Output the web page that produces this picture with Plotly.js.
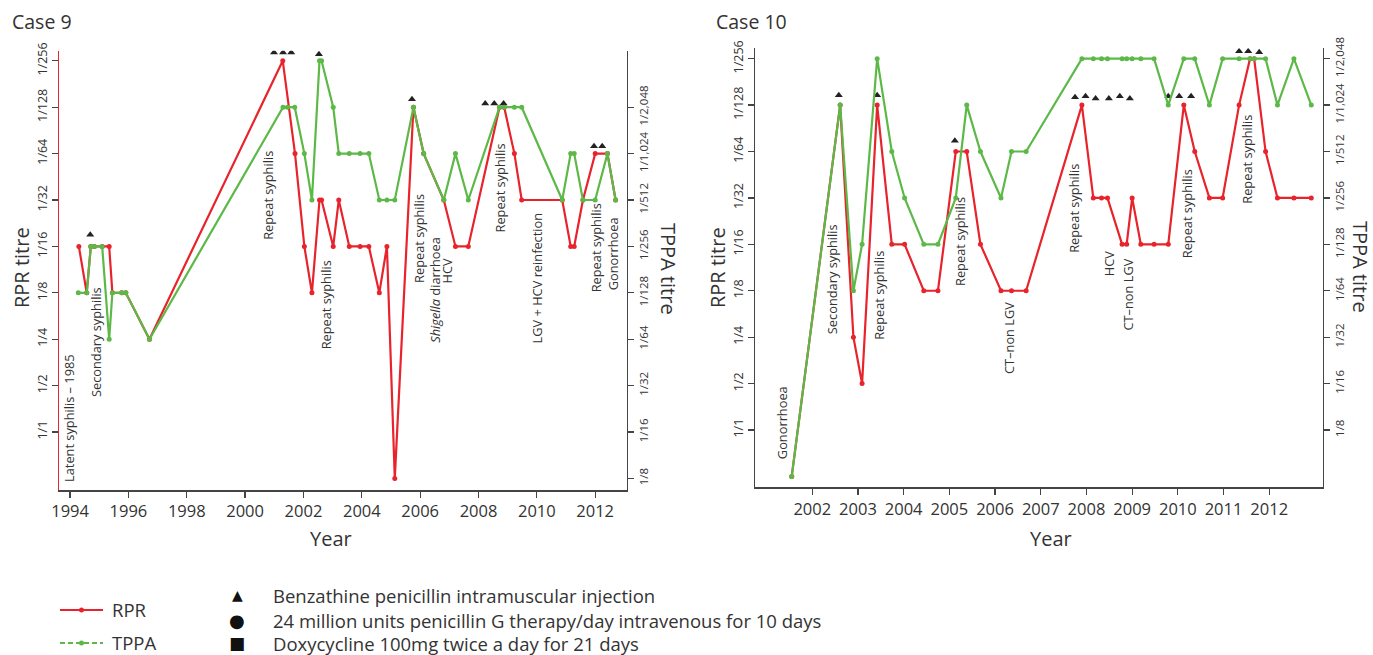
<!DOCTYPE html>
<html>
<head>
<meta charset="utf-8">
<script src="https://cdn.plot.ly/plotly-3.0.1.min.js"></script>
<style>html,body{margin:0;padding:0;background:#fff;}#chart{width:1373px;height:655px;}</style>
</head>
<body>
<div id="chart"></div>
<script>
// ---------- DATA (levels: 0 = 1/1, 1 = 1/2, ... 8 = 1/256; -1 = below 1/1) ----------
const rprTicks = ["1/1","1/2","1/4","1/8","1/16","1/32","1/64","1/128","1/256"];
const rprTickVals = [0,1,2,3,4,5,6,7,8];
const tppaTicks = ["1/8","1/16","1/32","1/64","1/128","1/256","1/512","1/1,024","1/2,048"];
const tppaTickVals9 = [-1,0,1,2,3,4,5,6,7];
const tppaTickVals10 = [0,1,2,3,4,5,6,7,8];
const yearTicks9 = [1994,1996,1998,2000,2002,2004,2006,2008,2010,2012];
const yearTicks10 = [2002,2003,2004,2005,2006,2007,2008,2009,2010,2011,2012];

// Case 9
const case9RprYears = [1994.30,1994.57,1994.71,1994.83,1995.10,1995.34,1995.45,1995.77,1995.91,1996.72,
  2001.29,2001.71,2002.03,2002.29,2002.55,2002.62,2003.02,2003.21,2003.57,2003.94,
  2004.24,2004.60,2004.86,2005.13,2005.77,2006.12,2006.81,2007.21,2007.65,2008.72,
  2008.88,2009.23,2009.48,2010.87,2011.16,2011.28,2011.58,2012.00,2012.42,2012.70];
const case9Rpr = [4,3,4,4,4,4,3,3,3,2, 8,6,4,3,5,5,4,5,4,4, 4,3,4,-1,7,6,5,4,4,7, 7,6,5,5,4,4,5,6,6,5];
const case9TppaYears = [1994.28,1994.57,1994.71,1994.83,1995.10,1995.34,1995.45,1995.77,1995.91,1996.72,
  2001.30,2001.45,2001.70,2002.03,2002.29,2002.55,2002.62,2003.02,2003.21,2003.57,
  2003.94,2004.24,2004.60,2004.86,2005.13,2005.77,2006.12,2006.81,2007.21,2007.65,
  2008.72,2008.88,2009.23,2009.48,2010.87,2011.16,2011.28,2011.58,2012.00,2012.42,2012.70];
const case9Tppa = [3,3,4,4,4,2,3,3,3,2, 7,7,7,6,5,8,8,7,6,6, 6,6,5,5,5,7,6,5,6,5, 7,7,7,7,5,6,6,5,5,6,5];
const case9InjYears = [1994.69,2000.99,2001.30,2001.58,2002.53,2005.72,2008.23,2008.54,2008.86,2011.96,2012.24];
const case9InjLevels = [4.25,8.18,8.18,8.18,8.14,7.17,7.08,7.08,7.08,6.16,6.16];
const case9Events = ["Latent syphilis \u2013 1985","Secondary syphilis","Repeat syphilis","Repeat syphilis",
  "Repeat syphilis","<i>Shigella</i> diarrhoea","HCV","Repeat syphilis","LGV + HCV reinfection","Repeat syphilis","Gonorrhoea"];
const case9EventYears = [1993.94,1994.89,2000.80,2002.77,2005.94,2006.48,2006.92,2008.74,2010.02,2012.03,2012.61];
const case9EventLevels = [0.31,1.94,5.10,2.75,4.17,3.07,3.46,5.25,3.32,3.96,3.85];

// Case 10
const case10Years = [2001.55,2002.61,2002.90,2003.09,2003.42,2003.74,2004.02,2004.44,2004.75,2005.14,
  2005.38,2005.68,2006.13,2006.36,2006.68,2007.90,2008.15,2008.33,2008.46,2008.78,
  2008.88,2009.00,2009.19,2009.48,2009.79,2010.13,2010.37,2010.69,2010.98,2011.34,
  2011.58,2011.67,2011.92,2012.18,2012.54,2012.92];
const case10Rpr = [-1,7,2,1,7,4,4,3,3,6, 6,4,3,3,3,7,5,5,5,4, 4,5,4,4,4,7,6,5,5,7, 8,8,6,5,5,5];
const case10Tppa = [-1,7,3,4,8,6,5,4,4,5, 7,6,5,6,6,8,8,8,8,8, 8,8,8,8,7,8,8,7,8,8, 8,8,8,7,8,7];
const case10InjYears = [2002.58,2003.42,2005.12,2007.75,2007.98,2008.20,2008.49,2008.73,2008.95,2009.79,2010.03,2010.29,2011.34,2011.54,2011.78];
const case10InjLevels = [7.21,7.21,6.23,7.17,7.19,7.14,7.14,7.19,7.14,7.19,7.19,7.19,8.16,8.16,8.14];
const case10Events = ["Gonorrhoea","Secondary syphilis","Repeat syphilis","Repeat syphilis","CT\u2013non LGV",
  "Repeat syphilis","HCV","CT\u2013non LGV","Repeat syphilis","Repeat syphilis"];
const case10EventYears = [2001.34,2002.42,2003.47,2005.22,2006.29,2007.71,2008.50,2008.91,2010.19,2011.52];
const case10EventLevels = [0.15,3.26,2.90,4.06,1.99,4.77,3.58,2.92,4.66,5.83];

const legendTreatments = ["Benzathine penicillin intramuscular injection",
  "24 million units penicillin G therapy/day intravenous for 10 days",
  "Doxycycline 100mg twice a day for 21 days"];
const legendSymbols = ["\u25B2","\u25CF","\u25A0"];

// ---------- STYLE ----------
const RED = "#e8232b", GREEN = "#5cb947", AX = "#444444", TXT = "#333333";
const FONT = "Open Sans, sans-serif";
const W = 1373, H = 655;
const px = v => v / W, py = v => 1 - v / H;

function line(x, y, color, xa, ya) {
  return {type:"scatter", mode:"lines+markers", x:x, y:y, xaxis:xa, yaxis:ya,
    line:{color:color, width:2.2}, marker:{color:color, size:5}, showlegend:false, hoverinfo:"skip"};
}
function tri(x, y, xa, ya) {
  return {type:"scatter", mode:"markers", x:x, y:y, xaxis:xa, yaxis:ya,
    marker:{symbol:"triangle-up", size:7, color:"#222"}, showlegend:false, hoverinfo:"skip"};
}

const traces = [
  line(case9RprYears, case9Rpr, RED, "x", "y"),
  line(case9TppaYears, case9Tppa, GREEN, "x", "y2"),
  tri(case9InjYears, case9InjLevels, "x", "y"),
  line(case10Years, case10Rpr, RED, "x2", "y3"),
  line(case10Years, case10Tppa, GREEN, "x2", "y4"),
  tri(case10InjYears, case10InjLevels, "x2", "y3")
];

const ann = [];
function eventLabels(texts, xs, ys, xref, yref) {
  texts.forEach((t, i) => ann.push({text:t, x:xs[i], y:ys[i], xref:xref, yref:yref, textangle:-90,
    showarrow:false, xanchor:"center", yanchor:"middle", font:{family:FONT, size:12.8, color:TXT}}));
}
eventLabels(case9Events, case9EventYears, case9EventLevels, "x", "y");
eventLabels(case10Events, case10EventYears, case10EventLevels, "x2", "y3");

function ptext(t, x, y, size, angle, xanchor) {
  ann.push({text:t, x:px(x), y:py(y), xref:"paper", yref:"paper", showarrow:false, textangle:angle||0,
    xanchor:xanchor||"center", yanchor:"middle", font:{family:FONT, size:size, color:TXT}});
}
ptext("Case 9", 10, 22, 19.5, 0, "left");
ptext("Case 10", 714, 22, 19.5, 0, "left");
ptext("RPR titre", 21, 268, 20, -90);
ptext("RPR titre", 717, 268, 20, -90);
ptext("TPPA titre", 668, 269, 20, 90);
ptext("TPPA titre", 1361, 267, 20, 90);
ptext("Year", 331, 538, 20);
ptext("Year", 1051, 538, 20);
ptext("RPR", 110, 609, 18.5, 0, "left");
ptext("TPPA", 110, 642, 18.5, 0, "left");
const symSizes = [14, 18, 17];
const legY = [595, 620, 643];
legendTreatments.forEach((t, i) => {
  ptext(t, 271, legY[i], 18.5, 0, "left");
  ann.push({text:legendSymbols[i], x:px(237), y:py(legY[i]), xref:"paper", yref:"paper", showarrow:false,
    xanchor:"center", yanchor:"middle", font:{family:"DejaVu Sans", size:symSizes[i], color:"#111"}});
});

const shapes = [
  {type:"line", xref:"paper", yref:"paper", x0:px(60), x1:px(103), y0:py(610), y1:py(610), line:{color:RED, width:2.2}},
  {type:"circle", xref:"paper", yref:"paper", x0:px(79), x1:px(84), y0:py(612.5), y1:py(607.5), fillcolor:RED, line:{color:RED, width:0}},
  {type:"line", xref:"paper", yref:"paper", x0:px(60), x1:px(103), y0:py(643), y1:py(643), line:{color:GREEN, width:2.2, dash:"5px,3px"}},
  {type:"circle", xref:"paper", yref:"paper", x0:px(79), x1:px(84), y0:py(645.5), y1:py(640.5), fillcolor:GREEN, line:{color:GREEN, width:0}}
];

const tickFontY = {family:FONT, size:12.5, color:TXT};
const tickFontYR = {family:FONT, size:11.5, color:TXT};
const tickFontX = {family:FONT, size:16.5, color:TXT};
const baseY = {showgrid:false, zeroline:false, showline:true, linecolor:AX, linewidth:1.5, ticks:"outside",
  ticklen:6, tickcolor:AX, tickwidth:1.3, tickangle:-90, tickfont:tickFontY, fixedrange:true};
const baseX = {showgrid:false, zeroline:false, showline:true, linecolor:AX, linewidth:1.5, ticks:"outside",
  ticklen:6, tickcolor:AX, tickwidth:1.3, tickfont:tickFontX, tickmode:"array", fixedrange:true};

const dom9y = [1 - 490/H, 1 - 50.7/H];
const dom10y = [1 - 487.3/H, 1 - 48.3/H];
const r9 = [-1.25, 8.218], r10 = [-1.235, 8.224];

const layout = {
  width:W, height:H, margin:{l:0, r:0, t:0, b:0}, paper_bgcolor:"#fff", plot_bgcolor:"rgba(0,0,0,0)",
  showlegend:false, font:{family:FONT, color:TXT},
  xaxis: Object.assign({}, baseX, {domain:[59.3/W, 626.7/W], range:[1993.63, 2013.08], anchor:"y", tickvals:yearTicks9}),
  yaxis: Object.assign({}, baseY, {domain:dom9y, range:r9, anchor:"x", tickmode:"array", tickvals:rprTickVals, ticktext:rprTicks, linecolor:RED}),
  yaxis2: Object.assign({}, baseY, {overlaying:"y", side:"right", anchor:"x", range:r9, tickmode:"array", tickvals:tppaTickVals9, ticktext:tppaTicks, tickfont:tickFontYR}),
  xaxis2: Object.assign({}, baseX, {domain:[755.3/W, 1322.7/W], range:[2000.753, 2013.17], anchor:"y3", tickvals:yearTicks10}),
  yaxis3: Object.assign({}, baseY, {domain:dom10y, range:r10, anchor:"x2", tickmode:"array", tickvals:rprTickVals, ticktext:rprTicks}),
  yaxis4: Object.assign({}, baseY, {overlaying:"y3", side:"right", anchor:"x2", range:r10, tickmode:"array", tickvals:tppaTickVals10, ticktext:tppaTicks, tickfont:tickFontYR}),
  annotations: ann,
  shapes: shapes
};

Plotly.newPlot("chart", traces, layout, {staticPlot:true, displayModeBar:false});
</script>
</body>
</html>
